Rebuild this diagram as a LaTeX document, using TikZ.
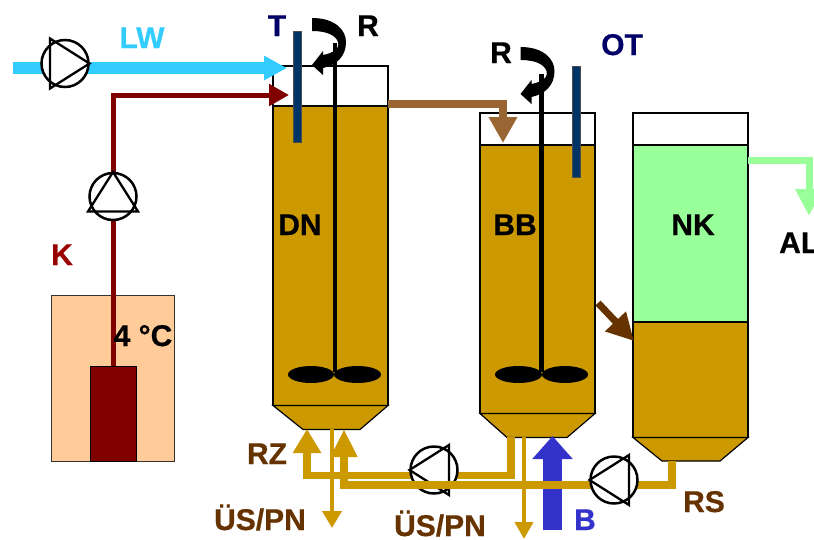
\documentclass[tikz,border=0pt]{standalone}
\usepackage{fontspec}
\setmainfont[BoldFeatures={FakeBold=0.6}]{Liberation Sans}
\usetikzlibrary{arrows.meta}
\definecolor{sludge}{HTML}{CC9900}
\definecolor{lwblue}{HTML}{33CCFF}
\definecolor{kred}{HTML}{800000}
\definecolor{coolbg}{HTML}{FFCC99}
\definecolor{probe}{HTML}{003366}
\definecolor{navytxt}{HTML}{000066}
\definecolor{midbrown}{HTML}{996633}
\definecolor{darkbrown}{HTML}{663300}
\definecolor{nkgreen}{HTML}{99FF99}
\definecolor{airblue}{HTML}{3333CC}
\definecolor{ktext}{HTML}{990000}
\tikzset{
  lab/.style={font=\fontsize{30}{30}\selectfont\bfseries,anchor=base,inner sep=0pt,text=black},
  tankline/.style={draw=black,line width=1.2pt},
  pipe/.style={line width=#1,line join=miter},
  blade/.style={fill=black,draw=none},
  probebar/.style={fill=probe,draw=black!70,line width=0.8pt},
  pumpc/.style={circle,draw=black,fill=white,line width=2.5pt,minimum size=47pt,inner sep=0pt},
  pumpt/.style={draw=black,line width=2.3pt,line join=miter}
}
\newcommand{\pumpsym}[4]{%
  \node[pumpc] (#1) at (#2,#3) {};
  \begin{scope}[shift={(#2,#3)},rotate=#4]
    \draw[pumpt] (24.5,0) -- (-15,25) -- (-15,-25) -- cycle;
  \end{scope}}
\newcommand{\turnarrow}[2]{%
  \begin{scope}[shift={(#1,#2)}]
    \fill[black] (312,18) .. controls (335,18) and (346,30) .. (346,42)
      .. controls (346,56) and (337,65) .. (323,68) -- (323,75) -- (312,65) -- (323,51) -- (323,55)
      .. controls (333,53) and (340,49) .. (338,42)
      .. controls (336,36) and (328,31) .. (312,31) -- cycle;
  \end{scope}}
\begin{document}
\begin{tikzpicture}[x=1pt,y=-1pt]
\useasboundingbox (0,0) rectangle (814,539);
\fill[white] (0,0) rectangle (814,539);
% named pipe points
\coordinate (lwa) at (13,68);   \coordinate (lwb) at (287,68);
\coordinate (ka) at (113.5,366); \coordinate (kb) at (113.5,95); \coordinate (kc) at (289,95);
\coordinate (bra) at (388,104); \coordinate (brb) at (503,104); \coordinate (brc) at (503,143);
\coordinate (gra) at (748,160.5); \coordinate (grb) at (809,160.5); \coordinate (grc) at (809,216);
\coordinate (dba) at (598,303); \coordinate (dbb) at (634,341);
\coordinate (upa) at (511,437); \coordinate (upb) at (511,475.5); \coordinate (upc) at (307,475.5); \coordinate (upd) at (307,429);
\coordinate (loa) at (672,461); \coordinate (lob) at (672,485); \coordinate (loc) at (344,485); \coordinate (lod) at (344,429);
\coordinate (usa) at (332,429); \coordinate (usb) at (332,528);
\coordinate (vsa) at (524,437); \coordinate (vsb) at (524,539);
\coordinate (bla) at (552.5,530); \coordinate (blb) at (552.5,436);
% cooler
\draw[fill=coolbg,draw=black!80,line width=1pt] (51,295) rectangle (174,461);
\draw[fill=kred,draw=black,line width=1pt] (90,366) rectangle (136,461);
% DN
\draw[tankline,fill=white] (273,66) rectangle (388,106);
\draw[tankline,fill=sludge] (273,106) rectangle (388,405.5);
\draw[tankline,fill=sludge] (273,405.5) -- (388,405.5) -- (360,429.5) -- (303,429.5) -- cycle;
% BB
\draw[tankline,fill=white] (480,113) rectangle (595,145);
\draw[tankline,fill=sludge] (480,145) rectangle (595,413.5);
\draw[tankline,fill=sludge] (480,413.5) -- (595,413.5) -- (567,437.5) -- (507,437.5) -- cycle;
% NK
\draw[tankline,fill=white] (633,113) rectangle (748,145);
\draw[tankline,fill=nkgreen] (633,145) rectangle (748,322);
\draw[tankline,fill=sludge] (633,322) rectangle (748,437.5);
\draw[tankline,fill=sludge] (633,437.5) -- (748,437.5) -- (720,461) -- (662,461) -- cycle;
% stirrers
\draw[line width=4.2pt,black] (335,43) -- (335,372);
\fill[blade] (311,374.5) ellipse [x radius=23,y radius=8.5];
\fill[blade] (357.5,374.5) ellipse [x radius=23.5,y radius=8.5];
\draw[line width=4.2pt,black] (541.5,74) -- (541.5,372);
\fill[blade] (518.5,374.5) ellipse [x radius=23.5,y radius=8.5];
\fill[blade] (565,374.5) ellipse [x radius=23,y radius=8.5];
% probes
\draw[probebar] (293.7,31.5) rectangle (301.7,142);
\draw[probebar] (572.3,66.5) rectangle (580,177);
% rotation arrows
\turnarrow{0}{0}
\turnarrow{208.5}{29}
% cooling feed
\draw[kred,pipe=5pt,-{Triangle[length=20pt,width=21pt]}] (ka) -- (kb) -- (kc);
% influent
\draw[lwblue,pipe=12pt,-{Triangle[length=23pt,width=23pt]}] (lwa) -- (lwb);
% transfers
\draw[midbrown,pipe=8pt,-{Triangle[length=26pt,width=27pt]}] (bra) -- (brb) -- (brc);
\draw[nkgreen,pipe=7pt,-{Triangle[length=27pt,width=26pt]}] (gra) -- (grb) -- (grc);
\draw[darkbrown,pipe=7pt,-{Triangle[length=27pt,width=27pt]}] (dba) -- (dbb);
% air
\draw[airblue,pipe=19pt,-{Triangle[length=23pt,width=39pt]}] (bla) -- (blb);
% sludge returns
\draw[sludge,pipe=7.5pt,-{Triangle[length=24pt,width=27pt]}] (upa) -- (upb) -- (upc) -- (upd);
\draw[sludge,pipe=4pt,-{Triangle[length=17pt,width=19pt]}] (usa) -- (usb);
\draw[sludge,pipe=4pt,-{Triangle[length=17pt,width=18pt]}] (vsa) -- (vsb);
% pumps
\pumpsym{pa}{65}{63.5}{0}
\pumpsym{pb}{113}{196.5}{90}
\pumpsym{pc}{434}{470}{180}
\draw[sludge,pipe=7.5pt,-{Triangle[length=28pt,width=25pt]}] (loa) -- (lob) -- (loc) -- (lod);
\pumpsym{pd}{614}{480}{180}
% labels
\node[lab,text=lwblue] (tlw) at (142,48) {LW};
\node[lab,text=navytxt] (tt) at (277,36) {T};
\node[lab] (tr1) at (368,36) {R};
\node[lab] (tr2) at (501,63) {R};
\node[lab,text=navytxt] (tot) at (622,55) {OT};
\node[lab] (tdn) at (300,235) {DN};
\node[lab] (tbb) at (515,235) {BB};
\node[lab] (tnk) at (693,235) {NK};
\node[lab,text=ktext] (tk) at (62,265) {K};
\node[lab] (tc) at (143,346) {4 °C};
\node[lab,anchor=base west] (tal) at (779,253) {AL};
\node[lab,text=darkbrown] (trz) at (267,464) {RZ};
\node[lab,text=darkbrown] (tus1) at (260,530) {ÜS/PN};
\node[lab,text=darkbrown] (tus2) at (440,536) {ÜS/PN};
\node[lab,text=airblue] (tb) at (585,530) {B};
\node[lab,text=darkbrown] (trs) at (704,512) {RS};
\end{tikzpicture}
\end{document}
